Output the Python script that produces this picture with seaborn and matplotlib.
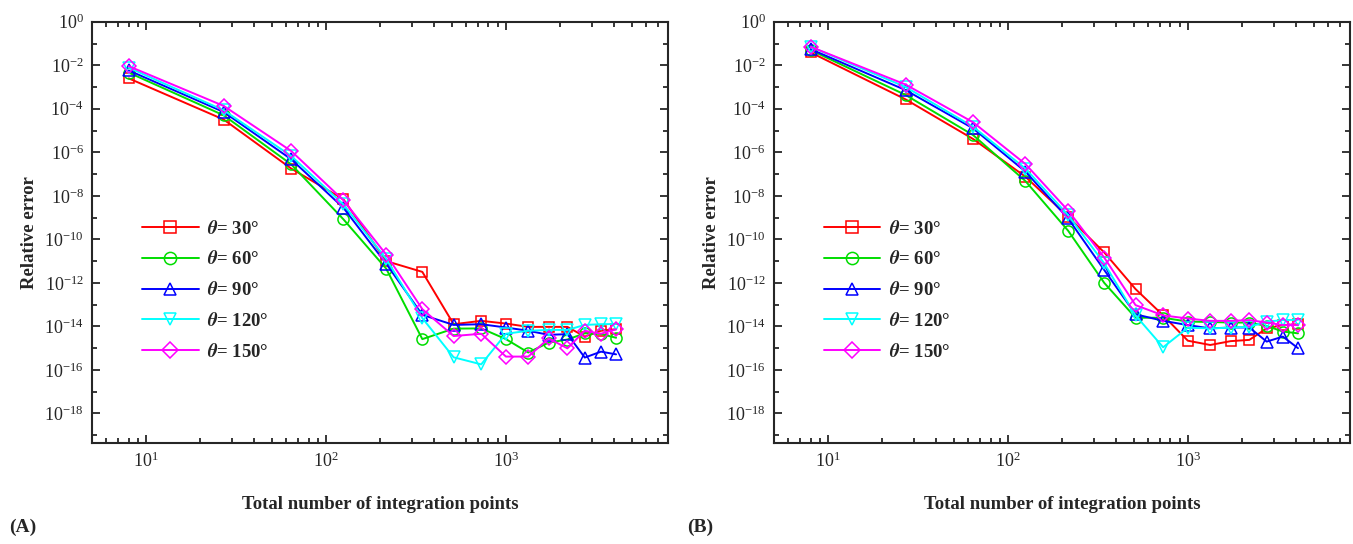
import numpy as np
import pandas as pd
import matplotlib
matplotlib.use("Agg")
import matplotlib.pyplot as plt
import matplotlib.ticker as mticker
import seaborn as sns

# total number of integration points (n^3, n = 2..16)
n_points = [8, 27, 64, 125, 216, 343, 512, 729, 1000, 1331, 1728, 2197, 2744, 3375, 4096]

labels = [r"$\boldsymbol{\theta}$= 30°", r"$\boldsymbol{\theta}$= 60°", r"$\boldsymbol{\theta}$= 90°",
          r"$\boldsymbol{\theta}$= 120°", r"$\boldsymbol{\theta}$= 150°"]

# panel (A)
err_a_30 = [2.5e-3, 3.2e-5, 1.8e-7, 6.9e-9, 1.0e-11, 3.2e-12, 1.26e-14, 1.8e-14, 1.35e-14,
            9.5e-15, 9.5e-15, 9.5e-15, 3.4e-15, 6.3e-15, 7.4e-15]
err_a_60 = [4.6e-3, 5.0e-5, 2.8e-7, 8.3e-10, 4.5e-12, 2.6e-15, 7.9e-15, 8.1e-15, 2.6e-15,
            6.3e-16, 1.8e-15, 2.5e-15, 4.8e-15, 4.5e-15, 3.0e-15]
err_a_90 = [5.8e-3, 7.1e-5, 4.8e-7, 2.8e-9, 7.6e-12, 3.4e-14, 1.17e-14, 1.26e-14, 8.9e-15,
            6.3e-15, 4.1e-15, 4.4e-15, 3.7e-16, 6.9e-16, 5.2e-16]
err_a_120 = [7.8e-3, 8.5e-5, 6.8e-7, 4.0e-9, 1.26e-11, 2.4e-14, 3.8e-16, 1.8e-16, 4.6e-15,
             6.3e-15, 6.9e-15, 6.9e-15, 1.17e-14, 1.26e-14, 1.29e-14]
err_a_150 = [9.1e-3, 1.35e-4, 1.15e-6, 6.2e-9, 2.0e-11, 6.2e-14, 3.6e-15, 4.6e-15, 4.1e-16,
             4.1e-16, 2.8e-15, 9.8e-16, 6.3e-15, 4.6e-15, 7.4e-15]

# panel (B)
err_b_30 = [3.9e-2, 2.7e-4, 4.1e-6, 7.6e-8, 1.1e-9, 2.5e-11, 5.2e-13, 3.2e-14, 2.2e-15,
            1.4e-15, 2.1e-15, 2.4e-15, 8.1e-15, 1.15e-14, 1.26e-14]
err_b_60 = [5.0e-2, 4.3e-4, 6.2e-6, 4.8e-8, 2.5e-10, 1.0e-12, 2.5e-14, 2.5e-14, 1.66e-14,
            1.6e-14, 1.5e-14, 1.5e-14, 1.05e-14, 5.8e-15, 4.8e-15]
err_b_90 = [5.5e-2, 7.2e-4, 1.26e-5, 1.3e-7, 9.1e-10, 3.9e-12, 3.6e-14, 1.8e-14, 1.15e-14,
            8.1e-15, 8.9e-15, 8.9e-15, 2.0e-15, 3.4e-15, 1.0e-15]
err_b_120 = [7.1e-2, 1.0e-3, 1.5e-5, 1.8e-7, 1.3e-9, 7.9e-12, 3.2e-14, 1.1e-15, 8.7e-15,
             8.1e-15, 8.7e-15, 9.5e-15, 1.66e-14, 1.95e-14, 2.0e-14]
err_b_150 = [7.1e-2, 1.3e-3, 2.4e-5, 2.9e-7, 2.1e-9, 1.45e-11, 9.5e-14, 3.2e-14, 2.3e-14,
             1.8e-14, 1.8e-14, 1.95e-14, 1.5e-14, 1.15e-14, 1.15e-14]

colors = ["#ff0000", "#00dd00", "#0000ff", "#00ffff", "#ff00ff"]
markers = ["s", "o", "^", "v", "D"]
msizes = [7.5, 8, 8.5, 8.5, 7.5]

sns.set_theme(style="ticks")
plt.rcParams["font.family"] = ["Liberation Serif", "DejaVu Serif"]
plt.rcParams["mathtext.fontset"] = "stix"
plt.rcParams["axes.linewidth"] = 1.5

fig = plt.figure(figsize=(13.53, 5.44), dpi=100)
ax_a = fig.add_axes([0.068, 0.186, 0.426, 0.774])
ax_b = fig.add_axes([0.572, 0.186, 0.426, 0.774])

panels = [
    (ax_a, [err_a_30, err_a_60, err_a_90, err_a_120, err_a_150], "(A)", 0.007),
    (ax_b, [err_b_30, err_b_60, err_b_90, err_b_120, err_b_150], "(B)", 0.508),
]

for ax, series, tag, tag_x in panels:
    for vals, lbl, c, m, ms in zip(series, labels, colors, markers, msizes):
        df = pd.DataFrame({"n": n_points, "err": vals})
        sns.lineplot(data=df, x="n", y="err", ax=ax, color=c, marker=m, markersize=ms,
                     markerfacecolor="none", markeredgecolor=c, markeredgewidth=1.1,
                     linewidth=1.4, label=lbl)
    ax.set_xscale("log")
    ax.set_yscale("log")
    ax.set_xlim(5, 8000)
    ax.set_ylim(10 ** -19.35, 1)
    ax.yaxis.set_major_locator(mticker.FixedLocator(10.0 ** np.arange(0, -19, -2)))
    ax.yaxis.set_minor_locator(mticker.FixedLocator(10.0 ** np.arange(-1, -20, -2)))
    ax.yaxis.set_major_formatter(mticker.LogFormatterSciNotation())
    ax.yaxis.set_minor_formatter(mticker.NullFormatter())
    ax.xaxis.set_major_locator(mticker.LogLocator(base=10, numticks=10))
    ax.xaxis.set_minor_locator(mticker.LogLocator(base=10, subs=np.arange(2, 10), numticks=20))
    ax.xaxis.set_minor_formatter(mticker.NullFormatter())
    ax.tick_params(which="both", direction="in", top=True, right=True, width=1.3)
    ax.tick_params(which="major", length=6, labelsize=13, pad=6)
    ax.tick_params(which="minor", length=3.5)
    ax.set_xlabel("Total number of integration points", fontsize=13.5, fontweight="bold", labelpad=18)
    ax.set_ylabel("Relative error", fontsize=13.5, fontweight="bold", labelpad=4)
    leg = ax.legend(loc="upper left", bbox_to_anchor=(0.058, 0.57), frameon=False,
                    handlelength=3.0, labelspacing=0.68, handletextpad=0.45,
                    markerscale=1.1, prop={"weight": "bold", "size": 13.5})
    fig.text(tag_x, 0.022, tag, fontsize=14, fontweight="bold")

fig.savefig("out.png", dpi=100)
